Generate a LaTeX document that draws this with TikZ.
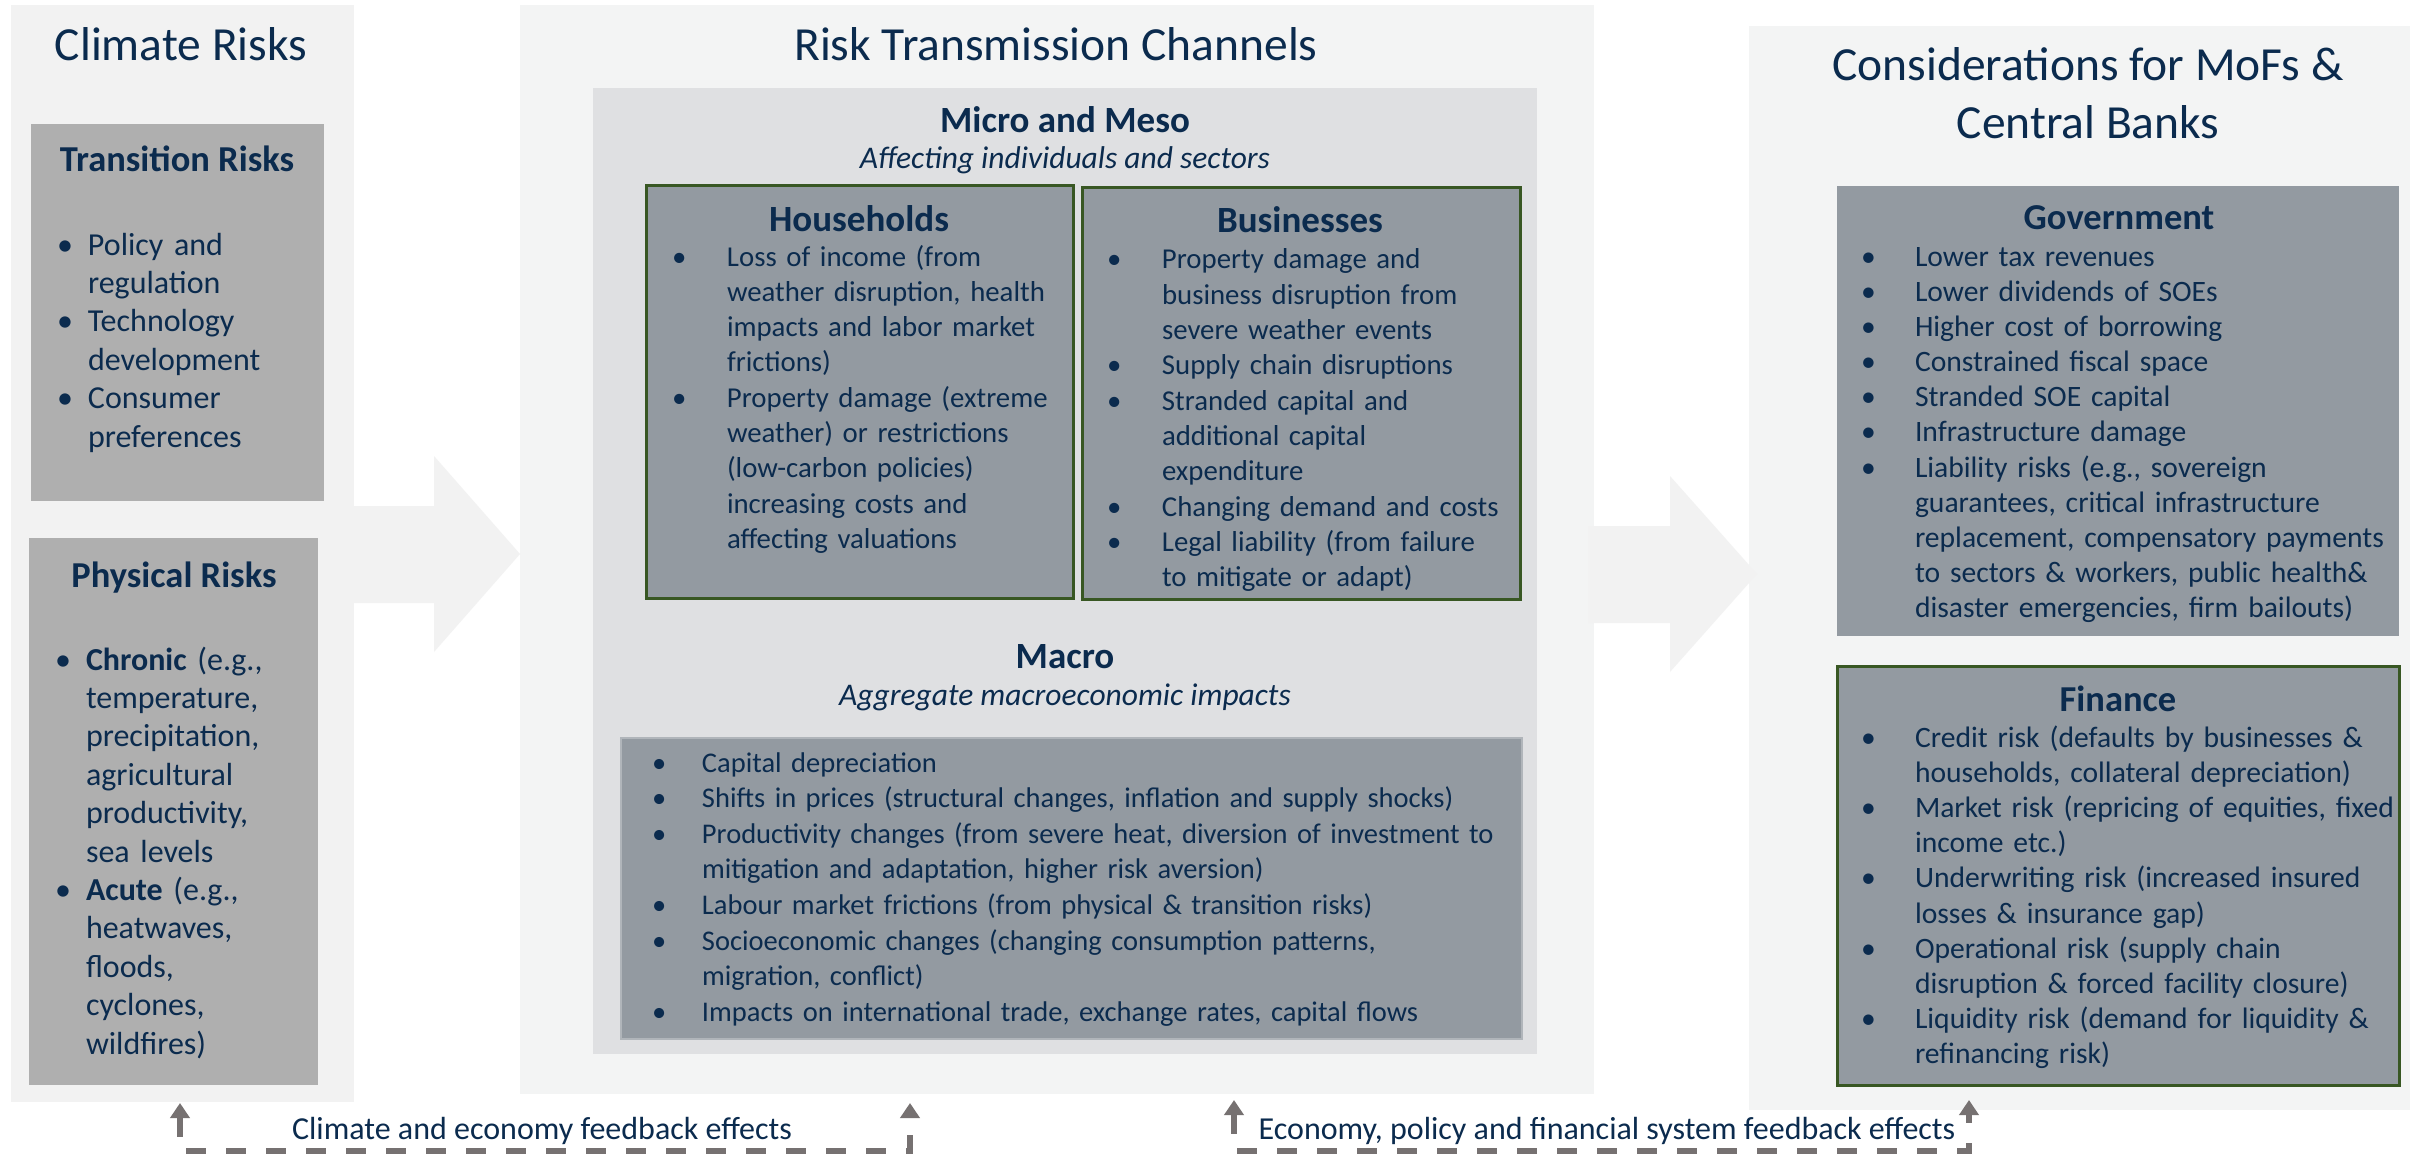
\documentclass[tikz,border=0pt]{standalone}
\usepackage{fontspec}
\setmainfont{Carlito}
\usetikzlibrary{arrows.meta}
\definecolor{navy}{HTML}{0B2B4E}
\definecolor{bgLc}{HTML}{F2F2F2}
\definecolor{bgMc}{HTML}{F3F4F4}
\definecolor{innerc}{HTML}{DFE0E2}
\definecolor{lgrayc}{HTML}{AFAFAF}
\definecolor{slatec}{HTML}{939AA1}
\definecolor{dgreenc}{HTML}{385723}
\definecolor{macroedge}{HTML}{B0B5BA}
\definecolor{fbgrayc}{HTML}{767171}
\definecolor{arrowc}{HTML}{F2F2F2}
\newlength\bind
\newcommand\bitem[1]{\noindent\hangindent=\bind\hangafter=1\makebox[\bind][l]{\textbullet}#1\par}
\newcommand\nl{\newline}
\newcommand\fs[2]{\fontsize{#1}{#2}\selectfont}
\newcommand\rect[6]{\node[#2,minimum width=#5pt,minimum height=#6pt,anchor=north west] (#1) at (#3,#4) {};}
\begin{document}
\begin{tikzpicture}[x=1pt,y=-1pt,
  every node/.style={inner sep=0pt,outer sep=0pt,text=navy},
  bgL/.style={fill=bgLc,draw=none},
  bgM/.style={fill=bgMc,draw=none},
  greybox/.style={fill=lgrayc,draw=none},
  innerbox/.style={fill=innerc,draw=none},
  slatebox/.style={fill=slatec,draw=none},
  greenbox/.style={fill=slatec,draw=dgreenc,line width=3pt},
  macrob/.style={fill=slatec,draw=macroedge,line width=1.5pt},
  ttl/.style={font=\fs{47.5}{58},align=center},
  hd/.style={font=\fs{36.5}{43}\bfseries,anchor=base},
  sub/.style={font=\fs{31.5}{37}\itshape,anchor=base},
  lstbig/.style={anchor=base west,text width=600pt,font=\fs{32}{38.4}},
  lst/.style={anchor=base west,text width=900pt,font=\fs{28.8}{35.3}},
  fb/.style={draw=fbgrayc,line width=6pt,dash pattern=on 20pt off 20pt,
    {Triangle[length=15pt,width=19pt]}-{Triangle[length=15pt,width=19pt]}},
  fbl/.style={font=\fs{32}{37},anchor=base}
]
\useasboundingbox (0,0) rectangle (2410,1161);
\fill[white] (0,0) rectangle (2410,1161);

% panels
\rect{climate}{bgL}{11}{5}{343}{1097}
\rect{channels}{bgM}{520}{5}{1074}{1089}
\rect{consider}{bgM}{1749}{26}{661}{1084}

% block arrows
\fill[arrowc] (353,506) -- (434,506) -- (434,456) -- (520,554) -- (434,652) -- (434,603) -- (353,603) -- cycle;
\fill[arrowc] (1588,526) -- (1670,526) -- (1670,476) -- (1757,574) -- (1670,672) -- (1670,623) -- (1588,623) -- cycle;

% titles
\node[ttl,anchor=base] (tclim) at (181,61) {Climate Risks};
\node[ttl,anchor=base] (tchan) at (1056,61) {Risk Transmission Channels};
\node[ttl,anchor=base] (tcons) at (2088,139) {Considerations for MoFs \&\\Central Banks};

% climate risks
\rect{trans}{greybox}{31}{124}{293}{377}
\node[hd] (htrans) at (177,172) {Transition Risks};
\node[lstbig] (ltrans) at (57,255) {\setlength\bind{31pt}%
\bitem{Policy and\nl regulation}%
\bitem{Technology\nl development}%
\bitem{Consumer\nl preferences}};

\rect{phys}{greybox}{29}{538}{289}{547}
\node[hd] (hphys) at (174,587) {Physical Risks};
\node[lstbig] (lphys) at (55,670) {\setlength\bind{31pt}%
\bitem{\textbf{Chronic} (e.g.,\nl temperature,\nl precipitation,\nl agricultural\nl productivity,\nl sea levels}%
\bitem{\textbf{Acute} (e.g.,\nl heatwaves,\nl floods,\nl cyclones,\nl wildfires)}};

% transmission channels
\rect{inner}{innerbox}{593}{88}{944}{966}
\node[hd,font=\fs{37}{44}\bfseries] (hmicro) at (1065,133) {Micro and Meso};
\node[sub] (smicro) at (1065,169) {Affecting individuals and sectors};

\rect{house}{greenbox}{646}{186}{427}{412}
\node[hd,font=\fs{37}{44}\bfseries] (hhouse) at (859,232) {Households};
\node[lst] (lhouse) at (672,266) {\setlength\bind{55pt}%
\bitem{Loss of income (from\nl weather disruption, health\nl impacts and labor market\nl frictions)}%
\bitem{Property damage (extreme\nl weather) or restrictions\nl (low-carbon policies)\nl increasing costs and\nl affecting valuations}};

\rect{busi}{greenbox}{1082}{188}{438}{411}
\node[hd,font=\fs{37}{44}\bfseries] (hbusi) at (1300,233) {Businesses};
\node[lst] (lbusi) at (1107,269) {\setlength\bind{55pt}%
\bitem{Property damage and\nl business disruption from\nl severe weather events}%
\bitem{Supply chain disruptions}%
\bitem{Stranded capital and\nl additional capital\nl expenditure}%
\bitem{Changing demand and costs}%
\bitem{Legal liability (from failure\nl to mitigate or adapt)}};

\node[hd,font=\fs{37}{44}\bfseries] (hmacro) at (1065,668) {Macro};
\node[sub] (smacro) at (1065,705) {Aggregate macroeconomic impacts};
\rect{macrobox}{macrob}{621}{738}{901}{301}
\node[lst,font=\fs{28.5}{35.6}] (lmacro) at (652,772) {\setlength\bind{50pt}%
\bitem{Capital depreciation}%
\bitem{Shifts in prices (structural changes, inflation and supply shocks)}%
\bitem{Productivity changes (from severe heat, diversion of investment to\nl mitigation and adaptation, higher risk aversion)}%
\bitem{Labour market frictions (from physical \& transition risks)}%
\bitem{Socioeconomic changes (changing consumption patterns,\nl migration, conflict)}%
\bitem{Impacts on international trade, exchange rates, capital flows}};

% considerations
\rect{gov}{slatebox}{1837}{186}{562}{450}
\node[hd] (hgov) at (2119,230) {Government};
\node[lst,font=\fs{29.6}{35.2}] (lgov) at (1861,266) {\setlength\bind{54pt}%
\bitem{Lower tax revenues}%
\bitem{Lower dividends of SOEs}%
\bitem{Higher cost of borrowing}%
\bitem{Constrained fiscal space}%
\bitem{Stranded SOE capital}%
\bitem{Infrastructure damage}%
\bitem{Liability risks (e.g., sovereign\nl guarantees, critical infrastructure\nl replacement, compensatory payments\nl to sectors \& workers, public health\&\nl disaster emergencies, firm bailouts)}};

\rect{fin}{greenbox}{1837}{666}{562}{419}
\node[hd] (hfin) at (2118,711) {Finance};
\node[lst,font=\fs{29.6}{35.2}] (lfin) at (1861,747) {\setlength\bind{54pt}%
\bitem{Credit risk (defaults by businesses \&\nl households, collateral depreciation)}%
\bitem{Market risk (repricing of equities, fixed\nl income etc.)}%
\bitem{Underwriting risk (increased insured\nl losses \& insurance gap)}%
\bitem{Operational risk (supply chain\nl disruption \& forced facility closure)}%
\bitem{Liquidity risk (demand for liquidity \&\nl refinancing risk)}};

% feedback loops
\coordinate (fbA) at (180,1103);
\coordinate (fbB) at (910,1103);
\coordinate (fbC) at (1234,1100);
\coordinate (fbD) at (1969,1100);
\draw[fb] (fbA) -- ++(0,48) -| (fbB);
\draw[fb] (fbC) -- ++(0,51) -| (fbD);
\node[fbl] (lfb1) at (542,1139) {Climate and economy feedback effects};
\node[fbl] (lfb2) at (1607,1139) {Economy, policy and financial system feedback effects};
\end{tikzpicture}
\end{document}
